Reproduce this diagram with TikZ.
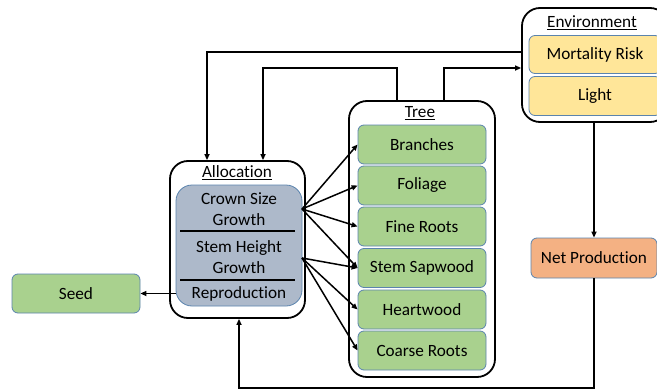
\documentclass[tikz,border=0pt]{standalone}
\usepackage{fontspec}
\setmainfont{Carlito}[Ligatures=NoCommon]
\usetikzlibrary{arrows.meta}
\definecolor{bgrey}{HTML}{ADB9CA}
\definecolor{lgreen}{HTML}{A9D18E}
\definecolor{lyellow}{HTML}{FFE699}
\definecolor{lorange}{HTML}{F4B183}
\definecolor{bline}{HTML}{5B84AE}
\tikzset{
  outerbox/.style={draw=black, line width=1.8pt, rounded corners=18pt, fill=white},
  partbox/.style={draw=bline, line width=0.8pt, rounded corners=6pt, minimum width=128pt, minimum height=39pt, inner sep=0pt, font=\fontsize{17.2}{20}\selectfont},
  greenbox/.style={partbox, fill=lgreen},
  yellowbox/.style={partbox, fill=lyellow},
  txt/.style={font=\fontsize{17.2}{21}\selectfont, align=center, inner sep=0pt},
  arr/.style={draw=black, line width=1.5pt, -{Triangle[length=6pt,width=5pt]}},
}
\begin{document}
\begin{tikzpicture}[x=1pt,y=-1pt]
\useasboundingbox (0,0) rectangle (657,391);
\clip (0,0) rectangle (657,391);
\fill[white] (0,0) rectangle (657,391);

% Allocation
\node[outerbox, minimum width=135pt, minimum height=157pt] (alloc) at (237.5,239.5) {};
\node[txt] (alloctitle) at (237,173) {\underline{Allocation}};
\node[draw=bline, line width=0.8pt, fill=bgrey, rounded corners=16pt, minimum width=126pt, minimum height=121pt, inner sep=0pt] (allocin) at (239,245.5) {};
\draw[line width=1.5pt] (180,231) -- (295,231);
\draw[line width=1.5pt] (180,280) -- (295,280);
\node[txt] (crown) at (239,209) {Crown Size\\Growth};
\node[txt] (stem) at (239,257) {Stem Height\\Growth};
\node[txt] (repro) at (239,294) {Reproduction};

% Tree
\node[outerbox, minimum width=146pt, minimum height=276pt] (tree) at (422,239) {};
\node[txt] (treetitle) at (420,113) {\underline{Tree}};
\node[greenbox] (branches) at (422,144.5) {Branches};
\node[greenbox] (foliage) at (422,185.5) {Foliage};
\node[greenbox] (fine) at (422,226.5) {Fine Roots};
\node[greenbox] (sap) at (422,268) {Stem Sapwood};
\node[greenbox] (heart) at (422,309.5) {Heartwood};
\node[greenbox] (coarse) at (422,350.5) {Coarse Roots};

% Environment
\node[outerbox, minimum width=146pt, minimum height=114pt] (env) at (595,65) {};
\node[txt] (envtitle) at (592,23) {\underline{Environment}};
\node[yellowbox, minimum width=132pt, minimum height=38pt] (mort) at (595,54.5) {Mortality Risk};
\node[yellowbox, minimum width=132pt, minimum height=39pt] (light) at (595,96) {Light};

% Net production and seed
\node[partbox, fill=lorange, minimum width=126pt, minimum height=40pt] (np) at (594,258) {Net Production};
\node[greenbox] (seed) at (76,293.5) {Seed};

% Connectors
\coordinate (j1) at (207,52);
\coordinate (j2) at (397,68);
\coordinate (j3) at (263,68);
\coordinate (j4) at (444,68);
\coordinate (j5) at (239,388);
\coordinate (j6) at (594,388);
\coordinate (cA) at (302,209);
\coordinate (cB) at (302,258);

\draw[arr] (env.west |- j1) -- (j1) -- (alloc.north -| j1);
\draw[arr] (tree.north -| j2) -- (j2) -- (j3) -- (alloc.north -| j3);
\draw[arr] (tree.north -| j4) |- (env.west |- j4);
\draw[arr] (np.north |- env.south) -- (np.north);
\draw[arr] (np.south) -- (j6) -- (j5) -- (alloc.south -| j5);
\draw[arr] (allocin.west |- seed.east) -- (seed.east);

\foreach \t in {branches,foliage,fine,sap} \draw[arr] (cA) -- (\t.west);
\foreach \t in {sap,heart,coarse} \draw[arr] (cB) -- (\t.west);
\end{tikzpicture}
\end{document}
